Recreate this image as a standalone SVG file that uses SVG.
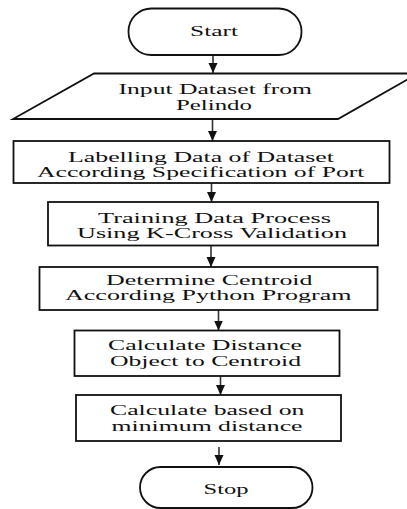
<svg xmlns="http://www.w3.org/2000/svg" width="407" height="509" viewBox="0 0 407 509">
<style>
.shape{fill:#fff;stroke:#111;stroke-width:1.8}
.lbl{font-family:'Liberation Serif','Times New Roman',serif;font-size:15px;fill:#111}
.conn{stroke:#333;stroke-width:1.6;fill:none;marker-end:url(#arrow)}
</style>
<defs>
<marker id="arrow" markerUnits="userSpaceOnUse" markerWidth="11" markerHeight="10" refX="10" refY="4.5" orient="auto">
<path d="M0,0 L10,4.5 L0,9 z" fill="#111"/>
</marker>
</defs>
<rect width="407" height="509" fill="#fff"/>
<g id="connectors">
<line class="conn" x1="213" y1="55" x2="213" y2="73"/>
<line class="conn" x1="212.5" y1="119" x2="212.5" y2="141"/>
<line class="conn" x1="211.5" y1="183" x2="211.5" y2="202"/>
<line class="conn" x1="211" y1="245.5" x2="211" y2="267"/>
<line class="conn" x1="218.5" y1="310" x2="218.5" y2="330.5"/>
<line class="conn" x1="220.5" y1="376" x2="220.5" y2="395"/>
<line class="conn" x1="219" y1="447" x2="219" y2="465"/>
</g>
<g id="start">
<rect class="shape" x="128.5" y="8.5" width="173" height="46.5" rx="23"/>
<text class="lbl" x="190" y="35.5" textLength="48" lengthAdjust="spacingAndGlyphs">Start</text>
</g>
<g id="input">
<polygon class="shape" points="94,73.5 418,73.5 338,119 13,119"/>
<text class="lbl" x="118.5" y="94" textLength="193.5" lengthAdjust="spacingAndGlyphs">Input Dataset from</text>
<text class="lbl" x="176" y="110" textLength="76" lengthAdjust="spacingAndGlyphs">Pelindo</text>
</g>
<g id="labelling">
<rect class="shape" x="13.5" y="141" width="376" height="42"/>
<text class="lbl" x="68" y="161.5" textLength="266" lengthAdjust="spacingAndGlyphs">Labelling Data of Dataset</text>
<text class="lbl" x="37" y="177" textLength="327.5" lengthAdjust="spacingAndGlyphs">According Specification of Port</text>
</g>
<g id="training">
<rect class="shape" x="48" y="202" width="330" height="43.5"/>
<text class="lbl" x="98" y="222.5" textLength="233" lengthAdjust="spacingAndGlyphs">Training Data Process</text>
<text class="lbl" x="77" y="238" textLength="270" lengthAdjust="spacingAndGlyphs">Using K-Cross Validation</text>
</g>
<g id="centroid">
<rect class="shape" x="39.5" y="267" width="338" height="43"/>
<text class="lbl" x="106" y="284.5" textLength="206.5" lengthAdjust="spacingAndGlyphs">Determine Centroid</text>
<text class="lbl" x="65" y="300" textLength="286.5" lengthAdjust="spacingAndGlyphs">According Python Program</text>
</g>
<g id="distance">
<rect class="shape" x="74.5" y="330.5" width="265" height="45.5"/>
<text class="lbl" x="108" y="350" textLength="194" lengthAdjust="spacingAndGlyphs">Calculate Distance</text>
<text class="lbl" x="110" y="366" textLength="191" lengthAdjust="spacingAndGlyphs">Object to Centroid</text>
</g>
<g id="minimum">
<rect class="shape" x="76" y="395" width="265" height="46"/>
<text class="lbl" x="110" y="414.5" textLength="194.5" lengthAdjust="spacingAndGlyphs">Calculate based on</text>
<text class="lbl" x="111.5" y="430.5" textLength="191" lengthAdjust="spacingAndGlyphs">minimum distance</text>
</g>
<g id="stop">
<rect class="shape" x="140" y="467" width="172.5" height="41" rx="20.5"/>
<text class="lbl" x="203.5" y="493.5" textLength="45" lengthAdjust="spacingAndGlyphs">Stop</text>
</g>
</svg>
